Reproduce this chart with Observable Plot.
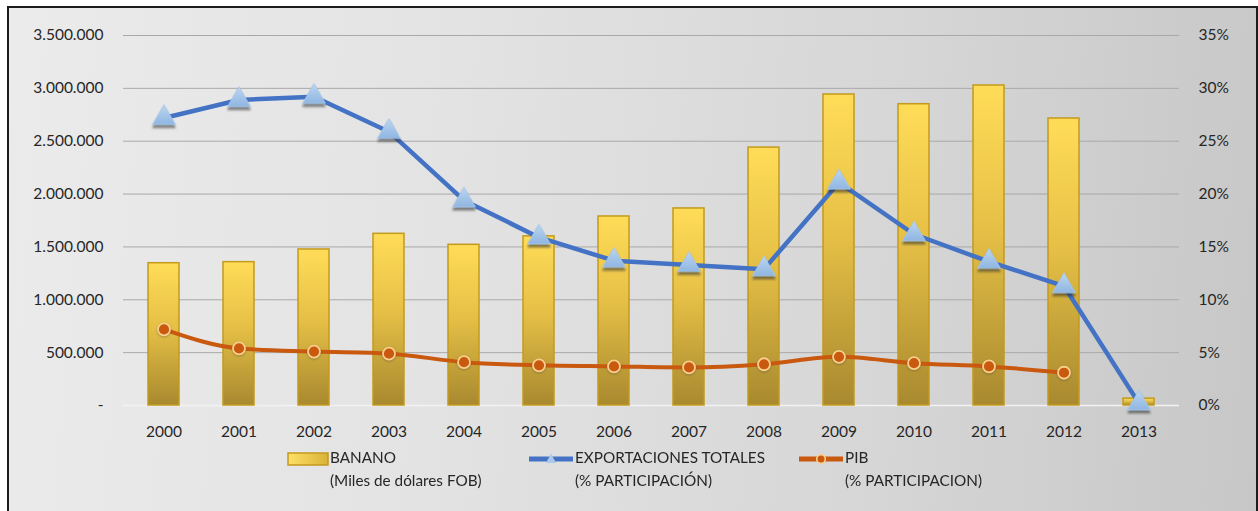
<!DOCTYPE html>
<html><head><meta charset="utf-8">
<script src="https://cdn.jsdelivr.net/npm/d3@7"></script>
<script src="https://cdn.jsdelivr.net/npm/@observablehq/plot@0.6"></script>
<style>
html,body{margin:0;padding:0}
body{background:#fff;width:1258px;height:511px;overflow:hidden;position:relative;font-family:Lato,sans-serif}
#frame{position:absolute;left:7px;top:6px;width:1247px;height:510px;border:2px solid #1c1c1c;background:linear-gradient(95deg,#ebebeb 0%,#e3e3e3 35%,#d6d6d6 70%,#c7c7c7 100%)}
#chart{position:absolute;left:0;top:0}
.leg{position:absolute;font-family:Lato,sans-serif;font-size:16.2px;color:#262626;line-height:16px;height:16px;white-space:nowrap;transform-origin:0 0}
.sw{position:absolute}
</style>
</head><body>
<div id="frame"></div>
<div id="chart"></div>
<div id="legend"></div>
<script>
// ---- data ----
const years = ["2000","2001","2002","2003","2004","2005","2006","2007","2008","2009","2010","2011","2012","2013"];
const banano = [1346000,1356000,1476000,1624000,1520000,1600000,1788000,1864000,2440000,2942000,2850000,3027000,2715000,65000];
const exportaciones = [27.2,28.9,29.2,25.9,19.4,15.9,13.7,13.3,12.9,21.1,16.2,13.6,11.3,0.2];
const pib = [7.2,5.4,5.1,4.9,4.1,3.8,3.7,3.6,3.9,4.6,4.0,3.7,3.1,null];
const yTicks = [0,500000,1000000,1500000,2000000,2500000,3000000,3500000];
const legendTitles = ["BANANO","EXPORTACIONES TOTALES","PIB"];
const legendSubs = ["(Miles de dólares FOB)","(% PARTICIPACIÓN)","(% PARTICIPACION)"];

const data = years.map((y,i)=>({year:y, banano:banano[i], exp:exportaciones[i], pib:pib[i]}));
const pibData = data.filter(d=>d.pib!=null);
const pctToY = p => p * 100000; // 35% maps to 3.500.000 on the shared scale

const fmtLeft = d => d === 0 ? "-" : d3.format(",")(d).replace(/,/g,".");
const fmtRight = d => Math.round(d/100000) + "%";

const defs = () => {
  const g = d3.create("svg:defs");
  const bg = g.append("linearGradient").attr("id","bargrad").attr("x1",0).attr("y1",0).attr("x2",0).attr("y2",1);
  bg.append("stop").attr("offset","0%").attr("stop-color","#ffdc58");
  bg.append("stop").attr("offset","45%").attr("stop-color","#e6c046");
  bg.append("stop").attr("offset","100%").attr("stop-color","#a8892f");
  const tg = g.append("linearGradient").attr("id","trigrad").attr("x1",0).attr("y1",0).attr("x2",0).attr("y2",1);
  tg.append("stop").attr("offset","0%").attr("stop-color","#bcd6f0");
  tg.append("stop").attr("offset","100%").attr("stop-color","#8fb6e2");
  return g.node();
};

const chart = Plot.plot({
  width: 1258,
  height: 445,
  marginLeft: 123,
  marginRight: 79,
  marginTop: 35,
  marginBottom: 40,
  style: {background: "transparent", fontFamily: "Lato, sans-serif", fontSize: "15px", color: "#262626", overflow: "visible"},
  x: {type: "band", domain: years, paddingInner: 0.59, paddingOuter: 0.295, axis: null},
  y: {domain: [0, 3500000], axis: null},
  marks: [
    defs,
    Plot.gridY(yTicks.filter(d=>d>0), {stroke: "#a9a9a9", strokeOpacity: 1, strokeWidth: 1}),
    Plot.ruleY([0], {stroke: "#f2f2f2", strokeWidth: 1.5}),
    Plot.barY(data, {x: "year", y: "banano", fill: "url(#bargrad)", stroke: "#c39a1c", strokeWidth: 1.5}),
    Plot.line(data, {x: "year", y: d => pctToY(d.exp), stroke: "#4472c4", strokeWidth: 4.5}),
    Plot.line(pibData, {x: "year", y: d => pctToY(d.pib), stroke: "#c9590f", strokeWidth: 4, curve: "monotone-x"}),
    Plot.dot(data, {x: "year", y: d => pctToY(d.exp), symbol: "triangle", r: 8.5, fill: "url(#trigrad)", stroke: "#a9c8ea", strokeWidth: 1}),
    Plot.dot(pibData, {x: "year", y: d => pctToY(d.pib), r: 6, fill: "#c9590f", stroke: "#fbd08c", strokeWidth: 1.8}),
    Plot.axisX({tickSize: 0, tickPadding: 20, label: null, fontSize: 15.5}),
    Plot.axisY({anchor: "left", ticks: yTicks, tickSize: 0, tickPadding: 20, tickFormat: fmtLeft, label: null, fontSize: 15.5}),
    Plot.axisY({anchor: "right", ticks: yTicks, tickSize: 0, tickPadding: 19, tickFormat: fmtRight, label: null, fontSize: 15.5})
  ]
});
document.getElementById("chart").appendChild(chart);
// shadow under the triangle markers
const dotGroups = d3.select(chart).selectAll("g[aria-label='dot']");
d3.select(dotGroups.nodes()[0]).style("filter", "drop-shadow(0px 3px 1.2px rgba(40,40,40,0.55))");
d3.select(dotGroups.nodes()[1]).style("filter", "drop-shadow(0px 1px 1px rgba(60,60,60,0.35))");

// ---- legend ----
const legend = document.getElementById("legend");
const legX = [287, 529, 799];
const textX = [330, 575, 845];
const swatchSvgs = [
  `<svg width="42" height="14"><defs><linearGradient id="lg0" x1="0" x2="1"><stop offset="0" stop-color="#ffe066"/><stop offset="1" stop-color="#d9b238"/></linearGradient></defs><rect x="1" y="1" width="40" height="12" fill="url(#lg0)" stroke="#c39a1c" stroke-width="1.5"/></svg>`,
  `<svg width="44" height="14"><line x1="0" x2="44" y1="7" y2="7" stroke="#4472c4" stroke-width="5"/><path d="M22 1.5 L27 11 L17 11 Z" fill="#a9c8ea"/></svg>`,
  `<svg width="44" height="14"><line x1="0" x2="44" y1="7" y2="7" stroke="#c9590f" stroke-width="5"/><circle cx="22" cy="7" r="4.3" fill="#c9590f" stroke="#fbd08c" stroke-width="1.6"/></svg>`
];
const lines = [];
let exportTitle = null;
legendTitles.forEach((t,i)=>{
  const sw = document.createElement("div");
  sw.className = "sw";
  sw.style.left = legX[i] + "px";
  sw.style.top = "450px";
  sw.innerHTML = swatchSvgs[i];
  legend.appendChild(sw);
  [[t, 449], [legendSubs[i], 472]].forEach(([s, top], j) => {
    const d = document.createElement("div");
    d.className = "leg";
    d.style.left = textX[i] + "px";
    d.style.top = top + "px";
    const sp = document.createElement("span");
    sp.textContent = s;
    d.appendChild(sp);
    legend.appendChild(d);
    lines.push(d);
    if (i === 1 && j === 0) exportTitle = sp;
  });
});
// condense legend text horizontally like the reference (EXPORTACIONES TOTALES ≈ 190px wide)
const ref = exportTitle.getBoundingClientRect().width;
const k = ref > 0 ? Math.min(1, 190 / ref) : 0.9;
lines.forEach(d => { d.style.transform = `scaleX(${k})`; });
</script>
</body></html>
